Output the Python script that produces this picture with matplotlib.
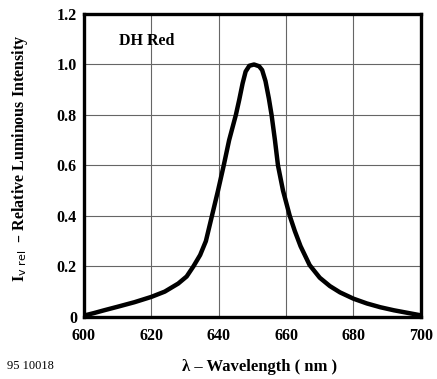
import matplotlib
matplotlib.use("Agg")
import matplotlib.pyplot as plt

wavelength = [600, 603, 606, 610, 615, 620, 624, 628, 630.5, 632.5, 634.5, 636.2, 637.1,
              638.0, 639.8, 641.5, 643.1, 645.1, 646.1, 647.1, 648.0, 649.1, 650.5, 652.0,
              652.9, 653.9, 654.9, 655.7, 656.7, 657.6, 659.1, 661.1, 662.6, 664.3, 667,
              670, 673, 676, 680, 684, 688, 692, 696, 700]
intensity = [0.005, 0.015, 0.026, 0.040, 0.058, 0.079, 0.100, 0.132, 0.160, 0.200, 0.245,
             0.300, 0.350, 0.400, 0.500, 0.600, 0.700, 0.800, 0.860, 0.925, 0.972, 0.995,
             1.0, 0.993, 0.978, 0.934, 0.865, 0.800, 0.700, 0.600, 0.500, 0.400, 0.340,
             0.280, 0.205, 0.155, 0.122, 0.097, 0.072, 0.053, 0.038, 0.026, 0.016, 0.006]
x_ticks = [600, 620, 640, 660, 680, 700]
y_ticks = [0, 0.2, 0.4, 0.6, 0.8, 1.0, 1.2]
y_tick_labels = ["0", "0.2", "0.4", "0.6", "0.8", "1.0", "1.2"]

serif = "Liberation Serif"
fs = 11.5

fig = plt.figure(figsize=(4.37, 3.79), dpi=100)
ax = fig.add_axes([0.192, 0.164, 0.771, 0.799])
ax.plot(wavelength, intensity, color="black", lw=3.2, solid_joinstyle="round",
        solid_capstyle="round", zorder=3)
ax.set_xlim(600, 700)
ax.set_ylim(0, 1.2)
ax.set_xticks(x_ticks)
ax.set_yticks(y_ticks)
ax.set_yticklabels(y_tick_labels)
ax.grid(True, color="#666666", lw=0.8)
ax.tick_params(length=0, pad=5)
ax.tick_params(axis="x", pad=8)
for lab in ax.get_xticklabels() + ax.get_yticklabels():
    lab.set_fontfamily(serif)
    lab.set_fontweight("bold")
    lab.set_fontsize(fs)
for s in ax.spines.values():
    s.set_linewidth(2.4)
    s.set_color("black")

ax.text(618.7, 1.095, "DH Red", family=serif, fontweight="bold", fontsize=fs,
        ha="center", va="center")

fig.text(0.045, 0.583, r"I$_{\mathrm{v\ rel}}$  – Relative Luminous Intensity",
         rotation=90, family=serif, fontweight="bold", fontsize=fs,
         ha="center", va="center")
fig.text(0.593, 0.032, "λ – Wavelength ( nm )", family=serif, fontweight="bold",
         fontsize=12, ha="center", va="center")
fig.text(0.016, 0.035, "95 10018", family=serif, fontsize=9, ha="left", va="center")

fig.savefig("out.png", dpi=100)
